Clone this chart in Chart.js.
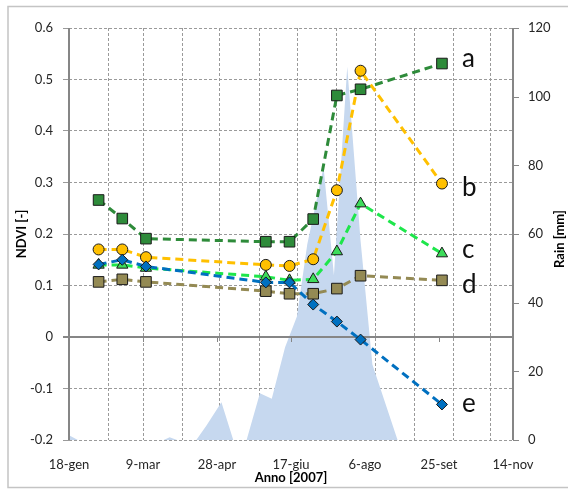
<!DOCTYPE html>
<html>
<head>
<meta charset="utf-8">
<script src="https://cdn.jsdelivr.net/npm/chart.js"></script>
<style>
  html, body { margin: 0; padding: 0; background: #fff; }
  #wrap { width: 568px; height: 489px; }
</style>
</head>
<body>
<div id="wrap"><canvas id="c" width="568" height="489"></canvas></div>
<script>
// acquisition dates (2007) and NDVI of the five plots
const dates = ['2007-02-07', '2007-02-23', '2007-03-11', '2007-05-31', '2007-06-16',
               '2007-07-02', '2007-07-18', '2007-08-03', '2007-09-27'];
const ndviA = [0.266, 0.230, 0.191, 0.185, 0.185, 0.229, 0.469, 0.481, 0.531];
const ndviB = [0.170, 0.170, 0.155, 0.140, 0.138, 0.151, 0.285, 0.517, 0.298];
const ndviC = [0.140, 0.140, 0.134, 0.117, 0.110, 0.112, 0.166, 0.259, 0.162];
const ndviD = [0.107, 0.112, 0.107, 0.089, 0.084, 0.084, 0.094, 0.119, 0.110];
const ndviE = [0.141, 0.150, 0.137, 0.106, 0.106, 0.063, 0.030, -0.005, -0.131];
const seriesNames = ['a', 'b', 'c', 'd', 'e'];

// rain [mm], secondary axis (day of year -> mm)
const rainDay = [18, 24, 82, 86, 91, 104, 111, 121, 129, 138, 147, 155, 164, 172, 179, 190, 197, 206, 215, 223, 240, 318];
const rainMm  = [1.4, 0, 0, 0.8, 0, 0, 4.3, 11, 0, 0, 13.6, 12, 27, 36, 57, 79.5, 48, 108.7, 58, 22, 0, 0];

// x tick labels every 50 days from 18-gen
const xTickDays = [18, 68, 118, 168, 218, 268, 318];
const mesi = ['gen', 'feb', 'mar', 'apr', 'mag', 'giu', 'lug', 'ago', 'set', 'ott', 'nov', 'dic'];

function dayOfYear(s) {
    const d = Date.parse(s + 'T00:00:00Z');
    return Math.round((d - Date.UTC(2007, 0, 1)) / 86400000) + 1;
}
function dayLabel(doy) {
    const d = new Date(Date.UTC(2007, 0, doy));
    return d.getUTCDate() + '-' + mesi[d.getUTCMonth()];
}

const days = dates.map(dayOfYear);
const pts = vals => vals.map((v, i) => ({ x: days[i], y: v }));

const FONT = 'Lato, "Open Sans", sans-serif';
const AXIS = '#868686';
const GRID = '#9a9a9a';

function ndviSet(label, vals, color, fill, style, r, order) {
    return {
        label: label,
        data: pts(vals),
        xAxisID: 'x',
        yAxisID: 'y',
        borderColor: color,
        backgroundColor: fill,
        borderWidth: 3,
        borderDash: [8, 5],
        pointStyle: style,
        pointRadius: r,
        pointBorderColor: '#1a1a1a',
        pointBorderWidth: 1,
        pointBackgroundColor: fill,
        fill: false,
        tension: 0,
        order: order
    };
}

const rainSet = {
    label: 'Rain',
    data: rainDay.map((d, i) => ({ x: d, y: rainMm[i] })),
    xAxisID: 'x',
    yAxisID: 'y2',
    borderWidth: 0,
    borderColor: 'rgba(0,0,0,0)',
    backgroundColor: '#c6d8ef',
    pointRadius: 0,
    fill: 'origin',
    tension: 0,
    order: 10
};

const datasets = [
    ndviSet('a', ndviA, '#2e8b3a', '#2e8b3a', 'rect', 7.5, 2),
    ndviSet('b', ndviB, '#ffc000', '#ffc000', 'circle', 5.5, 3),
    ndviSet('c', ndviC, '#1ee64b', '#3ddc5b', 'triangle', 6.5, 5),
    ndviSet('d', ndviD, '#948a54', '#948a54', 'rect', 7.5, 4),
    ndviSet('e', ndviE, '#0070c0', '#0070c0', 'rectRot', 5.5, 1),
    rainSet
];
const rainIndex = datasets.length - 1;

// vertical gridlines (day of year), as in the original secondary axis
const vGridDays = [44.6, 68.2, 94.8, 120, 147, 172.3, 198.9, 224.8, 251.3, 277.7, 303.1];

const framePlugin = {
    id: 'frame',
    afterDatasetDraw(chart, args) {
        if (args.index !== rainIndex) return;
        const { ctx, chartArea: ca, scales } = chart;
        const x = scales.x, y = scales.y, y2 = scales.y2;
        ctx.save();
        ctx.strokeStyle = AXIS;
        ctx.lineWidth = 2;
        const y0 = Math.round(y.getPixelForValue(0));
        ctx.beginPath(); ctx.moveTo(ca.left - 6, y0); ctx.lineTo(ca.right, y0); ctx.stroke();
        ctx.beginPath(); ctx.moveTo(ca.left, ca.top); ctx.lineTo(ca.left, ca.bottom); ctx.stroke();
        ctx.beginPath(); ctx.moveTo(ca.right, ca.top); ctx.lineTo(ca.right, ca.bottom); ctx.stroke();
        ctx.lineWidth = 1;
        xTickDays.forEach(d => {
            const px = Math.round(x.getPixelForValue(d)) + 0.5;
            ctx.beginPath(); ctx.moveTo(px, y0); ctx.lineTo(px, y0 + 5); ctx.stroke();
        });
        for (let v = 0; v <= 120; v += 20) {
            const py = Math.round(y2.getPixelForValue(v)) + 0.5;
            ctx.beginPath(); ctx.moveTo(ca.right, py); ctx.lineTo(ca.right + 6, py); ctx.stroke();
        }
        ctx.restore();
    },
    afterDraw(chart) {
        const { ctx, chartArea: ca } = chart;
        ctx.save();
        // series letters next to the last point
        const dy = [3, 12, 4, 13, 8];
        ctx.fillStyle = '#111';
        ctx.font = '26px ' + FONT;
        ctx.textAlign = 'left';
        ctx.textBaseline = 'alphabetic';
        seriesNames.forEach((n, i) => {
            const meta = chart.getDatasetMeta(i);
            const last = meta.data[meta.data.length - 1];
            ctx.fillText(n, last.x + 20, last.y + dy[i]);
        });
        // axis titles
        ctx.fillStyle = '#000';
        ctx.font = 'bold 13px ' + FONT;
        ctx.textAlign = 'center';
        ctx.textBaseline = 'middle';
        ctx.fillText('Anno [2007]', (ca.left + ca.right) / 2, 478);
        ctx.save();
        ctx.translate(22, (ca.top + ca.bottom) / 2);
        ctx.rotate(-Math.PI / 2);
        ctx.fillText('NDVI [-]', 0, 0);
        ctx.restore();
        ctx.save();
        ctx.translate(560, (ca.top + ca.bottom) / 2 + 5);
        ctx.rotate(-Math.PI / 2);
        ctx.fillText('Rain [mm]', 0, 0);
        ctx.restore();
        // outer frame
        ctx.strokeStyle = '#c4c4c4';
        ctx.lineWidth = 1.5;
        ctx.strokeRect(8, 6.5, 562, 481);
        ctx.restore();
    }
};

new Chart(document.getElementById('c'), {
    type: 'line',
    data: { datasets: datasets },
    options: {
        responsive: false,
        animation: false,
        events: [],
        layout: { padding: { top: 28, left: 0, right: 0, bottom: 0 } },
        plugins: {
            legend: { display: false },
            tooltip: { enabled: false }
        },
        scales: {
            x: {
                type: 'linear',
                min: 18,
                max: 318,
                grid: { display: false, drawTicks: false },
                border: { display: false },
                afterBuildTicks: s => { s.ticks = xTickDays.map(v => ({ value: v })); },
                afterFit: s => { s.height = 49; },
                ticks: {
                    padding: 17,
                    color: '#262626',
                    font: { family: FONT, size: 13 },
                    maxRotation: 0,
                    autoSkip: false,
                    callback: v => dayLabel(v)
                }
            },
            xg: {
                // only carries the vertical dashed gridlines
                type: 'linear',
                position: 'top',
                min: 18,
                max: 318,
                grid: { color: GRID, lineWidth: 1, drawTicks: false },
                border: { display: false, dash: [3, 2] },
                afterBuildTicks: s => { s.ticks = vGridDays.map(v => ({ value: v })); },
                afterFit: s => { s.height = 0; },
                ticks: { display: false }
            },
            y: {
                position: 'left',
                min: -0.2,
                max: 0.6,
                grid: {
                    color: c => (c.tick && Math.abs(c.tick.value) < 1e-9) ? 'rgba(0,0,0,0)' : GRID,
                    lineWidth: 1,
                    drawTicks: true,
                    tickLength: 6,
                    tickColor: GRID
                },
                border: { display: false, dash: [3, 2] },
                afterFit: s => { s.width = 69; },
                ticks: {
                    stepSize: 0.1,
                    padding: 10,
                    color: '#262626',
                    font: { family: FONT, size: 13 },
                    callback: v => String(Math.round(v * 10) / 10)
                }
            },
            y2: {
                position: 'right',
                min: 0,
                max: 120,
                grid: { display: false, drawTicks: false },
                border: { display: false },
                afterFit: s => { s.width = 55; },
                ticks: {
                    stepSize: 20,
                    padding: 15,
                    color: '#262626',
                    font: { family: FONT, size: 13 }
                }
            }
        }
    },
    plugins: [framePlugin]
});
</script>
</body>
</html>
